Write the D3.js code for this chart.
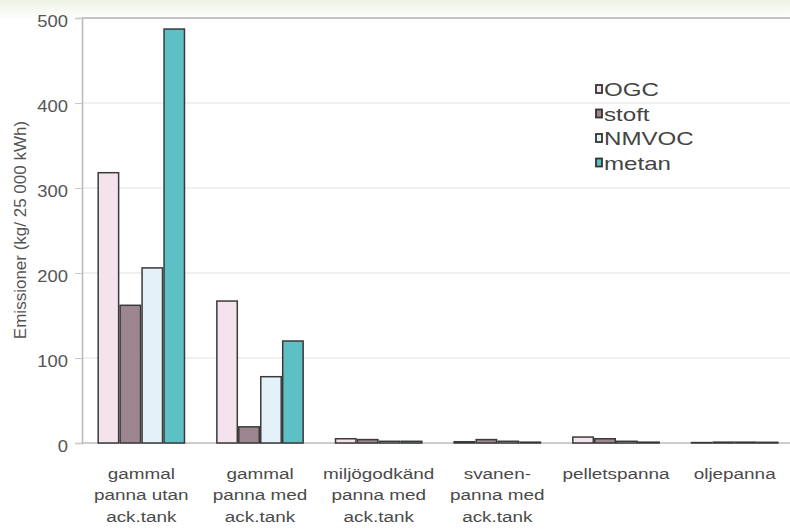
<!DOCTYPE html>
<html>
<head>
<meta charset="utf-8">
<script src="https://cdn.jsdelivr.net/npm/d3@7"></script>
<style>
  html, body { margin: 0; padding: 0; background: #fff; }
  svg { display: block; font-family: "Liberation Sans", Arial, sans-serif; }
</style>
</head>
<body>
<svg id="chart" width="790" height="529"></svg>
<script>
// Emissions per heating type (kg per 25 000 kWh)
const categories = [
  ["gammal", "panna utan", "ack.tank"],
  ["gammal", "panna med", "ack.tank"],
  ["miljögodkänd", "panna med", "ack.tank"],
  ["svanen-", "panna med", "ack.tank"],
  ["pelletspanna"],
  ["oljepanna"]
];
const seriesNames = ["OGC", "stoft", "NMVOC", "metan"];
const seriesColors = ["#f4e3ec", "#9d868f", "#e4f1f8", "#5dc0c5"];
const OGC   = [318, 167, 5, 1.5, 7, 0.5];
const stoft = [162, 19, 4, 4, 5, 1];
const NMVOC = [206, 78, 2, 2, 2, 1];
const metan = [487, 120, 2, 1, 1, 0.8];
const yTicks = [0, 100, 200, 300, 400, 500];
const yTitle = "Emissioner (kg/ 25 000 kWh)";

const values = [OGC, stoft, NMVOC, metan];

const svg = d3.select("#chart");

// faint tinted haze along the top edge
const defs = svg.append("defs");
const grad = defs.append("linearGradient").attr("id", "topHaze")
  .attr("x1", 0).attr("y1", 0).attr("x2", 0).attr("y2", 1);
grad.append("stop").attr("offset", "0%").attr("stop-color", "#eef3e6");
grad.append("stop").attr("offset", "100%").attr("stop-color", "#ffffff");
svg.append("rect").attr("x", 0).attr("y", 0).attr("width", 790).attr("height", 20)
  .attr("fill", "url(#topHaze)");

const plotLeft = 82, plotRight = 794, plotTop = 18, plotBottom = 443;

const x0 = d3.scaleBand()
  .domain(d3.range(categories.length))
  .range([plotLeft, plotRight])
  .paddingInner(0.26)
  .paddingOuter(0.13);

const x1 = d3.scaleBand()
  .domain(seriesNames)
  .range([0, x0.bandwidth()])
  .padding(0);

const y = d3.scaleLinear().domain([0, 500]).range([plotBottom, plotTop]);

// gridlines
svg.append("g")
  .selectAll("line")
  .data(yTicks.filter(t => t > 0))
  .join("line")
  .attr("x1", plotLeft).attr("x2", 790)
  .attr("y1", d => y(d)).attr("y2", d => y(d))
  .attr("stroke", d => d === 500 ? "#c4c4c4" : "#e2e2e2")
  .attr("stroke-width", d => d === 500 ? 2 : 1.2);

// y axis (labels widened slightly, drawn just under each tick)
const yAxis = d3.axisLeft(y).tickValues(yTicks).tickSize(7).tickPadding(7);
const gy = svg.append("g").attr("transform", `translate(${plotLeft},0)`).call(yAxis);
gy.select(".domain").attr("stroke", "#bbbbbb").attr("stroke-width", 1.6);
gy.selectAll(".tick line").attr("stroke", "#c8c8c8");
gy.selectAll(".tick text")
  .attr("x", 0)
  .attr("dy", "0.55em")
  .attr("transform", "translate(-14,0) scale(1.15,1)")
  .attr("fill", "#555").attr("font-size", 16)
  .attr("font-family", "'Liberation Sans', Arial, sans-serif");

// baseline
svg.append("line")
  .attr("x1", plotLeft).attr("x2", 790)
  .attr("y1", y(0)).attr("y2", y(0))
  .attr("stroke", "#bdbdbd").attr("stroke-width", 1.5);

// bars
const groups = svg.append("g")
  .selectAll("g")
  .data(categories.map((c, i) => i))
  .join("g")
  .attr("transform", i => `translate(${x0(i)},0)`);

groups.selectAll("rect")
  .data(i => seriesNames.map((s, k) => ({ s, k, v: values[k][i] })))
  .join("rect")
  .attr("x", d => x1(d.s) + 0.75)
  .attr("width", x1.bandwidth() - 1.5)
  .attr("y", d => y(d.v))
  .attr("height", d => y(0) - y(d.v))
  .attr("fill", d => seriesColors[d.k])
  .attr("stroke", "#3a3a3a")
  .attr("stroke-width", 1.5);

// category labels
const xl = svg.append("g")
  .selectAll("text")
  .data(categories)
  .join("text")
  .attr("x", 0)
  .attr("y", 0)
  .attr("transform", (c, i) => `translate(${x0(i) + x0.bandwidth() / 2},479) scale(1.22,1)`)
  .attr("text-anchor", "middle")
  .attr("fill", "#4a4a4a")
  .attr("font-size", 15.5);
xl.selectAll("tspan")
  .data(c => c)
  .join("tspan")
  .attr("x", 0)
  .attr("dy", (d, j) => j === 0 ? 0 : 21.5)
  .text(d => d);

// y axis title
svg.append("text")
  .attr("transform", `translate(26,230) rotate(-90)`)
  .attr("text-anchor", "middle")
  .attr("fill", "#555")
  .attr("font-size", 17)
  .text(yTitle);

// legend
const legend = svg.append("g").attr("transform", "translate(596,90)");
const li = legend.selectAll("g")
  .data(seriesNames)
  .join("g")
  .attr("transform", (d, i) => `translate(0,${i * 24.5})`);
li.append("rect")
  .attr("x", 0).attr("y", -5)
  .attr("width", 6).attr("height", 8)
  .attr("fill", (d, i) => seriesColors[i])
  .attr("stroke", "#333").attr("stroke-width", 1.8);
li.append("text")
  .attr("x", 0).attr("y", 0).attr("dy", "0.35em")
  .attr("transform", "translate(8,0) scale(1.34,1)")
  .attr("fill", "#444")
  .attr("font-size", 18)
  .text(d => d);
</script>
</body>
</html>
